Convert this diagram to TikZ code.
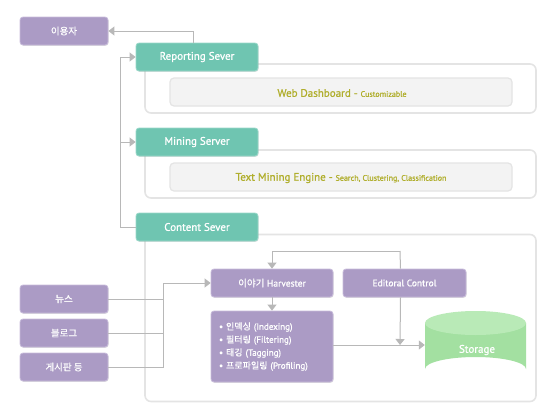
\documentclass[tikz,border=0pt]{standalone}
\usepackage{fontspec}
\setmainfont{PT Sans}[FakeBold=0.9]
\newfontfamily\kr{Noto Sans CJK KR}[FakeBold=0.6]
\usetikzlibrary{arrows.meta,shadows}
\definecolor{purp}{HTML}{AB9BC5}
\definecolor{purpb}{HTML}{C8BCDB}
\definecolor{teal1}{HTML}{6FC5B1}
\definecolor{tealb}{HTML}{9AD8C9}
\definecolor{olive}{HTML}{B0AE2C}
\definecolor{cgray}{HTML}{B8B8B8}
\definecolor{pborder}{HTML}{E4E4E4}
\definecolor{ifill}{HTML}{F3F3F3}
\definecolor{cylbody}{HTML}{A3E0A1}
\definecolor{cyltop}{HTML}{B9EAB7}
\tikzset{
  pbox/.style={draw=purpb,line width=0.8pt,fill=purp,rounded corners=3pt,text=white,
    minimum width=88pt,minimum height=28pt,inner sep=0pt,font=\fontsize{9.5}{11}\selectfont,
    drop shadow={shadow xshift=0.6pt,shadow yshift=-0.8pt,opacity=0.25}},
  tbox/.style={draw=tealb,line width=0.8pt,fill=teal1,rounded corners=3pt,text=white,
    minimum width=122pt,minimum height=28pt,inner sep=0pt,font=\fontsize{11}{13}\selectfont,
    drop shadow={shadow xshift=0.6pt,shadow yshift=-0.8pt,opacity=0.25}},
  panel/.style={draw=pborder,line width=1.6pt,fill=white,rounded corners=6pt},
  ibox/.style={draw=pborder,line width=1.2pt,fill=ifill,rounded corners=4pt},
  conn/.style={draw=cgray,line width=1pt},
  arr/.style={conn,-{Triangle[length=6pt,width=9pt]}},
}
\begin{document}
\begin{tikzpicture}[x=1pt,y=-1pt]
\useasboundingbox (0,0) rectangle (551,418);
% panels
\node[panel,minimum width=391pt,minimum height=49pt,inner sep=0pt] (repP) at (340.5,88.5) {};
\node[ibox,minimum width=342pt,minimum height=28pt,inner sep=0pt] (repI) at (341,92) {};
\node[text=olive] (repT) at (342,93) {\fontsize{11}{13}\selectfont Web Dashboard - \fontsize{8}{9}\selectfont Customizable};
\node[panel,minimum width=391pt,minimum height=48pt,inner sep=0pt] (minP) at (340.5,174) {};
\node[ibox,minimum width=342pt,minimum height=28pt,inner sep=0pt] (minI) at (341,177) {};
\node[text=olive] (minT) at (341,178) {\fontsize{11}{13}\selectfont Text Mining Engine - \fontsize{8}{9}\selectfont Search, Clustering, Classification};
\node[panel,minimum width=391pt,minimum height=167pt,inner sep=0pt] (conP) at (340.5,318) {};
% servers
\node[tbox] (rep) at (197,57) {Reporting Sever};
\node[tbox] (mine) at (197,142) {Mining Server};
\node[tbox] (cont) at (197,227) {Content Sever};
% user and sources
\node[pbox] (user) at (64,31) {\kr 이용자};
\node[pbox] (news) at (64,299) {\kr 뉴스};
\node[pbox] (blog) at (64,333) {\kr 블로그};
\node[pbox] (board) at (64,367) {\kr 게시판 등};
% inner content
\node[pbox,minimum width=122pt] (harv) at (272,283) {{\kr 이야기} Harvester};
\node[pbox,minimum width=123pt] (edit) at (404.5,283) {Editoral Control};
\node[pbox,minimum width=122pt,minimum height=71pt,align=left,text width=106pt,
  font=\fontsize{9}{13}\selectfont] (list) at (272,346.5)
  {• {\kr 인덱싱} (Indexing)\\• {\kr 필터링} (Filtering)\\• {\kr 태깅} (Tagging)\\• {\kr 프로파일링} (Profiling)};
% storage cylinder
\fill[cylbody] (425,323) -- (425,369) arc[start angle=180,end angle=360,x radius=50.5pt,y radius=-12pt] -- (526,323) -- cycle;
\fill[cyltop] (475.5,323) ellipse[x radius=50.5pt,y radius=12pt];
\node[minimum width=101pt,minimum height=70pt,inner sep=0pt] (storage) at (475.5,345) {};
\node[text=white,font=\fontsize{11}{13}\selectfont] (stlab) at (477,350) {Storage};
% connectors
\draw[arr] ([xshift=-4pt]rep.north) |- (user.east);
\coordinate (spT) at (120,57);
\coordinate (spB) at (120,227);
\draw[conn] (cont.west) -- (spB) -- (spT);
\draw[arr] (spT) -- (rep.west);
\draw[arr] (spT |- mine.west) -- (mine.west);
\coordinate (jn) at (163,283);
\draw[conn] (news.east) -- (news.east -| jn);
\draw[conn] (blog.east) -- (blog.east -| jn);
\draw[conn] (board.east) -- (board.east -| jn) -- (jn);
\draw[arr] (jn) -- (harv.west);
\coordinate (lp) at (400,251);
\coordinate (ej) at (400,345);
\draw[arr] (lp) -| (harv.north);
\draw[conn] (lp) -- ([xshift=-4pt]edit.north);
\draw[arr] ([xshift=-4pt]edit.south) -- (ej);
\draw[arr] (harv.south) -- (list.north);
\draw[arr] (list.east |- ej) -- (storage.west);
\end{tikzpicture}
\end{document}
